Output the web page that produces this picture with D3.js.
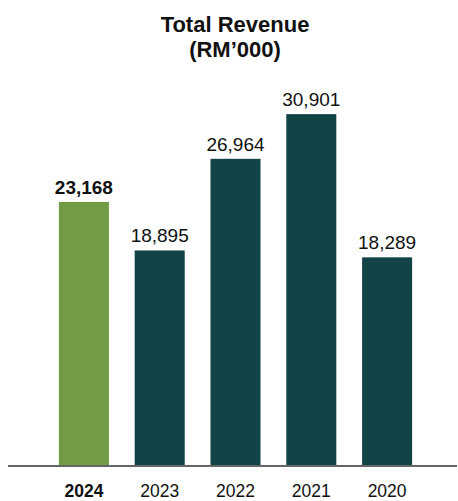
<!DOCTYPE html>
<html>
<head>
<meta charset="utf-8">
<script src="https://cdn.jsdelivr.net/npm/d3@7"></script>
<style>
  html, body { margin: 0; padding: 0; background: #ffffff; }
  svg { display: block; font-family: "Liberation Sans", Arial, sans-serif; }
</style>
</head>
<body>
<svg id="chart" width="458" height="501"></svg>
<script>
// Total revenue, RM'000, most recent year first
const years = ["2024", "2023", "2022", "2021", "2020"];
const revenue = [23168, 18895, 26964, 30901, 18289];
const highlightYear = "2024";

const svg = d3.select("#chart");
const W = 458;

const x = d3.scaleBand()
  .domain(years)
  .range([46, 425])
  .paddingInner(0.34)
  .paddingOuter(0.17);

const y = d3.scaleLinear()
  .domain([0, 31000])
  .range([465, 113]);

const fmt = d3.format(",");
const green = "#739a44";
const teal = "#124346";

// Title
const title = svg.append("text")
  .attr("x", W / 2 + 6)
  .attr("text-anchor", "middle")
  .attr("font-weight", "bold")
  .attr("font-size", 22)
  .attr("fill", "#111");
title.append("tspan").attr("x", W / 2 + 6).attr("y", 32).text("Total Revenue");
title.append("tspan").attr("x", W / 2 + 6).attr("y", 57).text("(RM’000)");

const data = years.map((yr, i) => ({ year: yr, value: revenue[i] }));

// Bars
svg.append("g").selectAll("rect")
  .data(data)
  .join("rect")
  .attr("x", d => x(d.year))
  .attr("width", x.bandwidth())
  .attr("y", d => y(d.value))
  .attr("height", d => y(0) - y(d.value))
  .attr("fill", d => d.year === highlightYear ? green : teal);

// Value labels
svg.append("g").selectAll("text")
  .data(data)
  .join("text")
  .attr("x", d => x(d.year) + x.bandwidth() / 2)
  .attr("y", d => y(d.value) - 8)
  .attr("text-anchor", "middle")
  .attr("font-size", 19)
  .attr("font-weight", d => d.year === highlightYear ? "bold" : "normal")
  .attr("fill", "#111")
  .text(d => fmt(d.value));

// Baseline axis
const axis = svg.append("g")
  .attr("transform", `translate(0,${y(0) + 1})`)
  .call(d3.axisBottom(x).tickSize(0).tickPadding(19));
axis.select(".domain")
  .attr("d", `M8,0H457`)
  .attr("stroke", "#333")
  .attr("stroke-width", 1.5);
axis.selectAll(".tick text")
  .attr("font-family", "\"Liberation Sans\", Arial, sans-serif")
  .attr("font-size", 17.5)
  .attr("fill", "#111")
  .attr("font-weight", d => d === highlightYear ? "bold" : "normal");
</script>
</body>
</html>
